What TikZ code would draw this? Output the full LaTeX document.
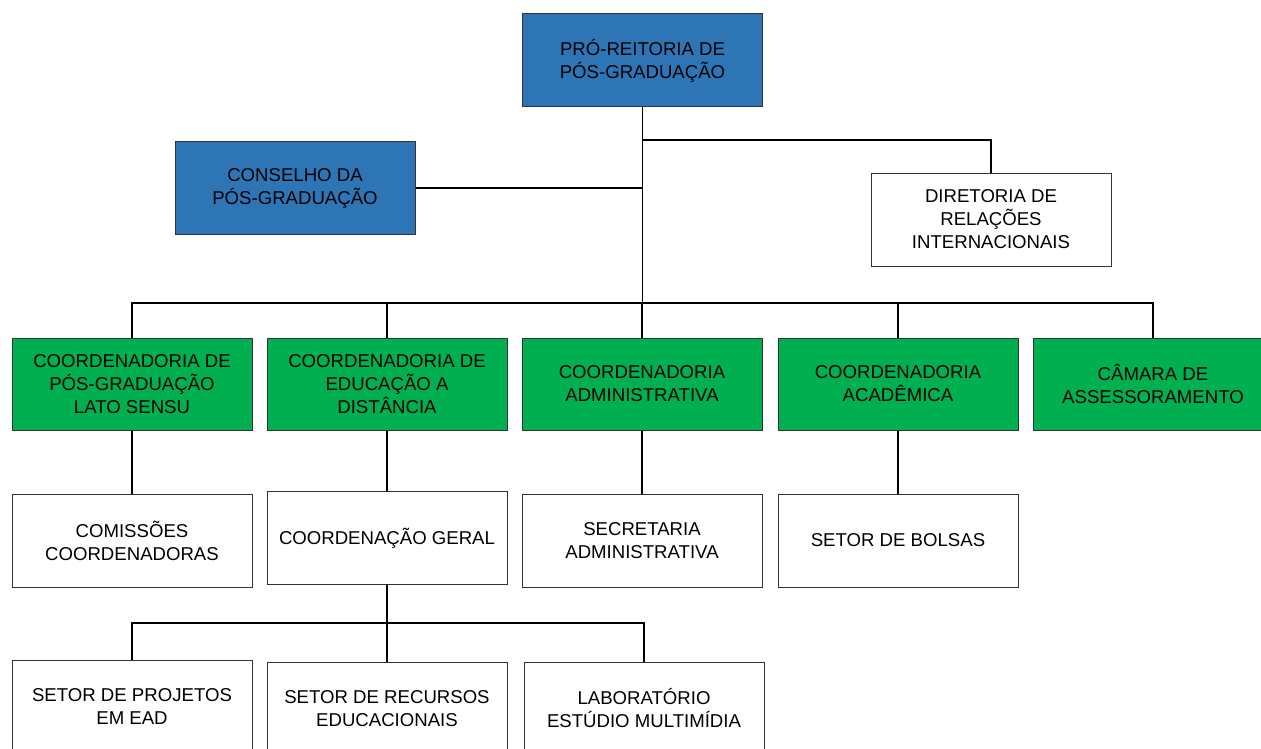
\documentclass[tikz,border=0pt]{standalone}
\usepackage{fontspec}
\setmainfont{Liberation Sans}
\usetikzlibrary{calc}

\definecolor{azul}{HTML}{2E75B6}
\definecolor{verde}{HTML}{00B050}

\tikzset{
    caixa/.style={draw=black!80, line width=1pt, minimum width=240pt, minimum height=93pt,
        inner sep=0pt, align=center, font=\fontsize{18.6}{23}\selectfont},
    reitoria/.style={caixa, fill=azul},
    coord/.style={caixa, fill=verde, minimum height=92pt},
    setor/.style={caixa, fill=white},
    ligacao/.style={line width=1.2pt},
    tronco/.style={line width=1.8pt},
}

\begin{document}
\begin{tikzpicture}[x=1pt,y=1pt]
            \useasboundingbox (0,0) rectangle (1261,-749);
            \clip (0,0) rectangle (1261,-749);
            % topo
            \node[reitoria] (pro) at (642.5,-60.5) {PRÓ-REITORIA DE\\PÓS-GRADUAÇÃO};
            \node[reitoria] (cons) at (295,-188) {CONSELHO DA\\PÓS-GRADUAÇÃO};
            \node[setor] (dir) at (991,-219.5) {DIRETORIA DE\\RELAÇÕES\\INTERNACIONAIS};
            % coordenadorias
            \node[coord] (c1) at (132,-384) {COORDENADORIA DE\\PÓS-GRADUAÇÃO\\LATO SENSU};
            \node[coord] (c2) at (387,-384) {COORDENADORIA DE\\EDUCAÇÃO A\\DISTÂNCIA};
            \node[coord] (c3) at (642,-384) {COORDENADORIA\\ADMINISTRATIVA};
            \node[coord] (c4) at (898,-384) {COORDENADORIA\\ACADÊMICA};
            \node[coord] (c5) at (1153,-384) {CÂMARA DE\\ASSESSORAMENTO};
            % setores
            \node[setor] (com) at (132,-540.5) {COMISSÕES\\COORDENADORAS};
            \node[setor] (ger) at (387,-538) {COORDENAÇÃO GERAL};
            \node[setor] (sec) at (642,-540.5) {SECRETARIA\\ADMINISTRATIVA};
            \node[setor] (bol) at (898,-540.5) {SETOR DE BOLSAS};
            \node[setor] (proj) at (132,-706.5) {SETOR DE PROJETOS\\EM EAD};
            \node[setor] (rec) at (387,-708.5) {SETOR DE RECURSOS\\EDUCACIONAIS};
            \node[setor] (lab) at (644,-708.5) {LABORATÓRIO\\ESTÚDIO MULTIMÍDIA};
            % barramentos
            \coordinate (barra) at (642,-303);
            \coordinate (jdir) at (642,-140);
            \coordinate (barrab) at (387,-623);
            % ligacoes
            \draw[tronco] (pro.south) -- (pro.south |- barra);
            \draw[ligacao] (jdir) -| (dir.north);
            \draw[ligacao] (cons.east) -- (cons.east -| pro.south);
            \draw[ligacao] (c1.north) |- (c5.north |- barra) -- (c5.north);
            \foreach \n in {c2,c3,c4} {
                \draw[ligacao] (\n.north) -- (\n.north |- barra);
            }
            \foreach \a/\b in {c1/com,c2/ger,c3/sec,c4/bol} {
                \draw[ligacao] (\a.south) -- (\a.south |- \b.north);
            }
            \draw[tronco] (ger.south) -- (barrab);
            \draw[ligacao] (proj.north) |- (lab.north |- barrab) -- (lab.north);
            \draw[ligacao] (rec.north) -- (barrab);
        \end{tikzpicture}
\end{document}
